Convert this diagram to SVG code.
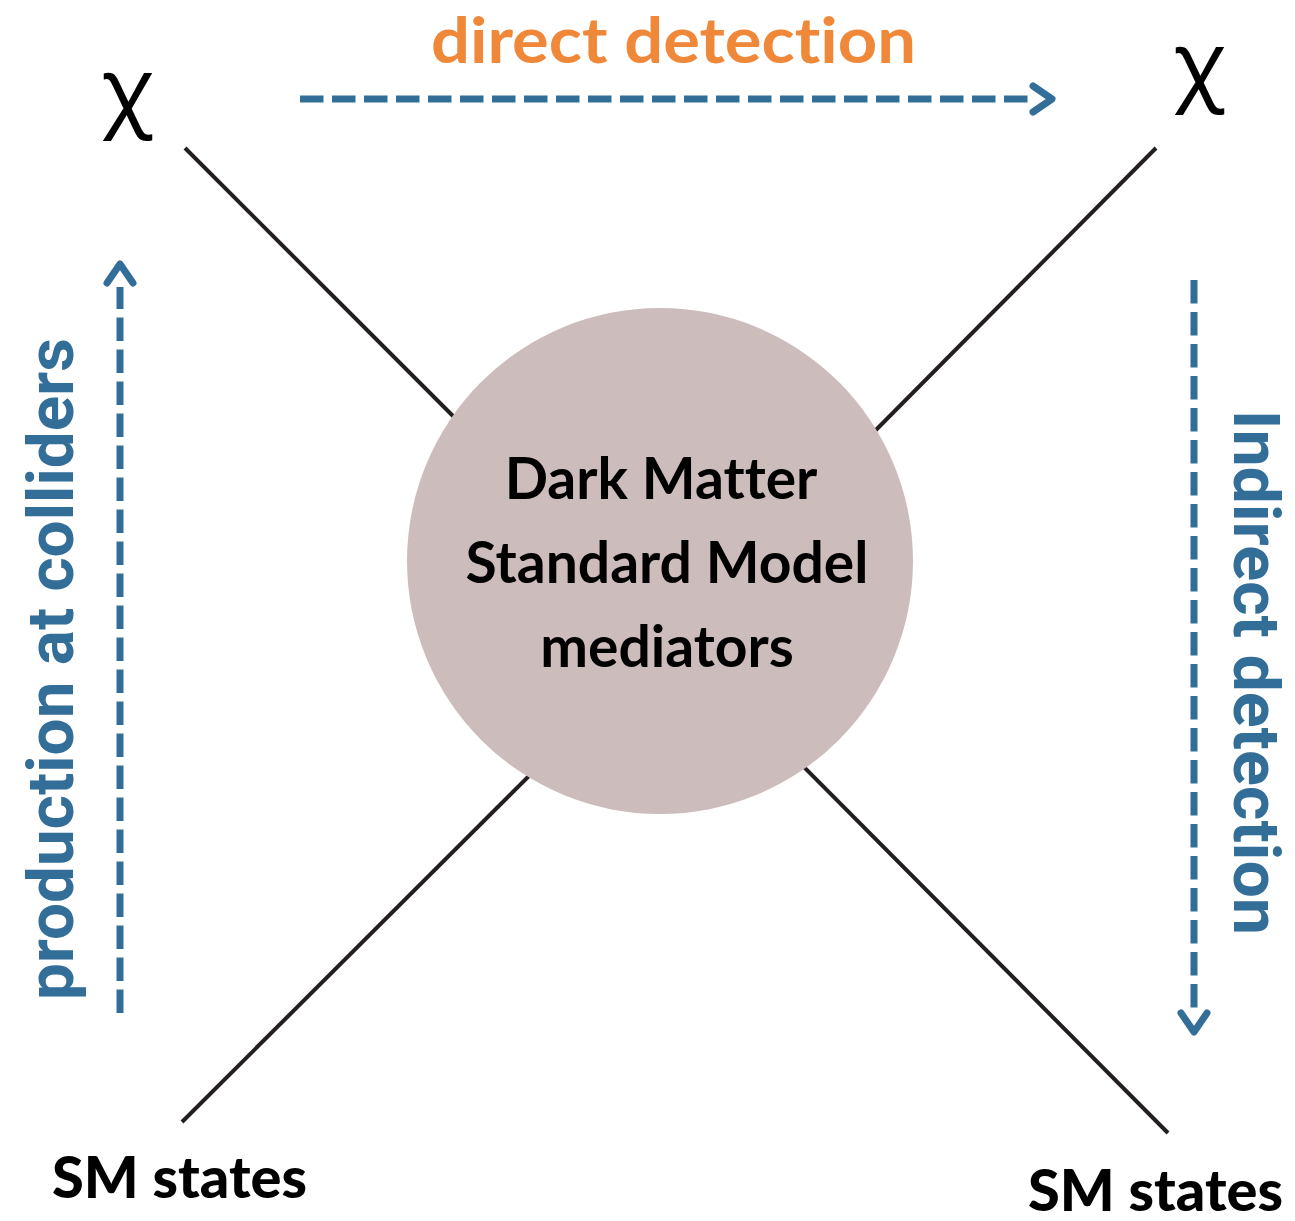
<svg xmlns="http://www.w3.org/2000/svg" width="1295" height="1221" viewBox="0 0 1295 1221">
  <style>
    text { font-variant-ligatures: none; }
    .edge { stroke: #231f20; stroke-width: 4; fill: none; }
    .flow { stroke: #336e99; stroke-width: 7; fill: none; stroke-dasharray: 23.5 8.5; }
    .chi { font-family: "Noto Sans", "DejaVu Sans", sans-serif; font-size: 87px; fill: #000; text-anchor: middle; }
    .sm { font-family: "Lato", "Liberation Sans", sans-serif; font-weight: 900; font-size: 58px; fill: #000; }
    .core { font-family: "Lato", "Liberation Sans", sans-serif; font-weight: 700; font-size: 57px; fill: #000; text-anchor: middle; }
    .vlab { font-family: "Roboto", "Liberation Sans", sans-serif; font-weight: 700; font-size: 64px; fill: #336e99; }
    .orange { font-family: "Lato", "Liberation Sans", sans-serif; font-weight: 700; font-size: 64px; fill: #f0883a; }
  </style>
  <defs>
    <marker id="chev" markerUnits="userSpaceOnUse" markerWidth="40" markerHeight="40" viewBox="-5 -20 40 40" refX="0" refY="0" orient="auto" overflow="visible">
      <path d="M4,-13 L23,0 L4,13" fill="none" stroke="#336e99" stroke-width="7" stroke-linecap="round" stroke-linejoin="round"/>
    </marker>
  </defs>
  <rect width="1295" height="1221" fill="#fff"/>

  <g id="connectors">
    <line class="edge" x1="185" y1="148" x2="475" y2="438"/>
    <line class="edge" x1="1156" y1="148" x2="860" y2="446"/>
    <line class="edge" x1="182" y1="1122" x2="545" y2="760"/>
    <line class="edge" x1="1168" y1="1133" x2="790" y2="753"/>
    <line class="flow" x1="300" y1="99" x2="1029" y2="99" marker-end="url(#chev)"/>
    <line class="flow" x1="120" y1="1013" x2="120" y2="287" marker-end="url(#chev)"/>
    <line class="flow" x1="1194" y1="280" x2="1194" y2="1009" marker-end="url(#chev)"/>
  </g>

  <g id="mediator">
    <circle cx="660" cy="561" r="253" fill="#cdbcbc"/>
    <text class="core" x="661" y="499">Dark Matter</text>
    <text class="core" x="667" y="583">Standard Model</text>
    <text class="core" x="667" y="667">mediators</text>
  </g>

  <g id="chi-left"><text class="chi" x="127" y="120">χ</text></g>
  <g id="chi-right"><text class="chi" x="1199" y="94">χ</text></g>
  <g id="sm-left"><text class="sm" x="52" y="1198" textLength="255" lengthAdjust="spacingAndGlyphs">SM states</text></g>
  <g id="sm-right"><text class="sm" x="1028" y="1211" textLength="255" lengthAdjust="spacingAndGlyphs">SM states</text></g>

  <g id="label-direct"><text class="orange" x="431" y="63" textLength="485" lengthAdjust="spacingAndGlyphs">direct detection</text></g>
  <g id="label-production"><text class="vlab" transform="translate(73,1000) rotate(-90)" x="0" y="0" textLength="662" lengthAdjust="spacingAndGlyphs">production at colliders</text></g>
  <g id="label-indirect"><text class="vlab" transform="translate(1234,410) rotate(90)" x="0" y="0" textLength="525" lengthAdjust="spacingAndGlyphs">Indirect detection</text></g>
</svg>
